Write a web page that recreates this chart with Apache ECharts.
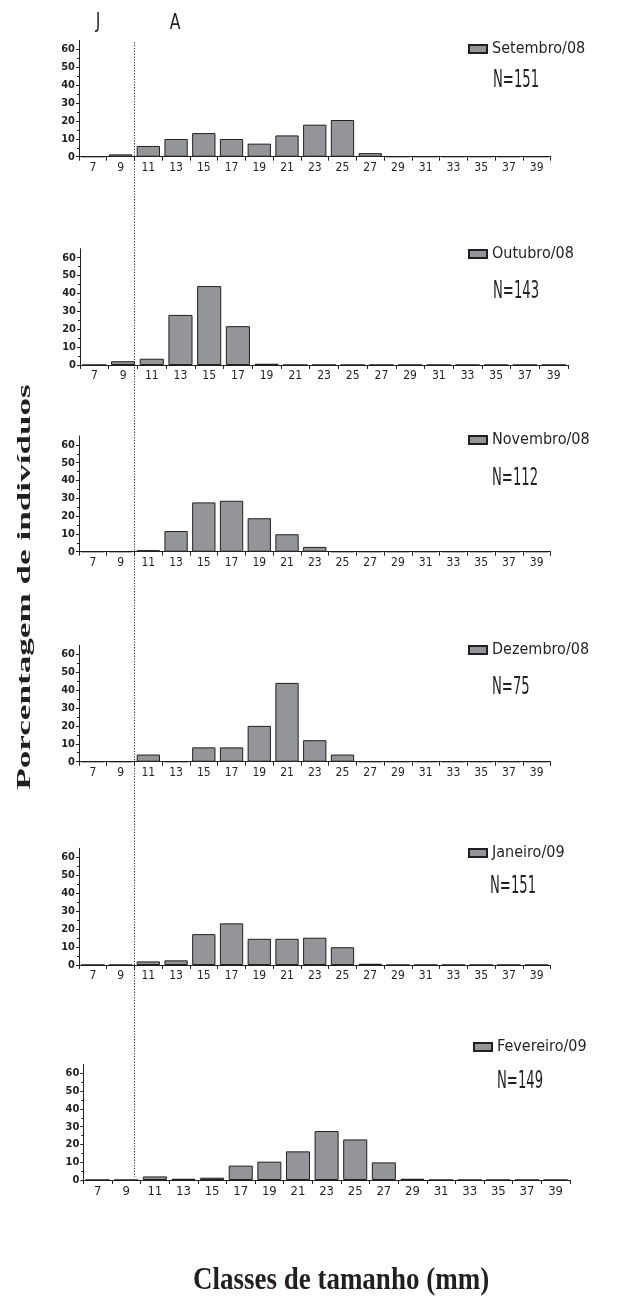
<!DOCTYPE html>
<html><head><meta charset="utf-8">
<script src="https://cdn.jsdelivr.net/npm/echarts@6/dist/echarts.min.js"></script>
<style>html,body{margin:0;padding:0;background:#fff}#chart{width:641px;height:1302px}</style>
</head><body><div id="chart"></div>
<script>
// ---- data ----
const sizeClasses = ['7','9','11','13','15','17','19','21','23','25','27','29','31','33','35','37','39'];
const yTickValues = [0, 10, 20, 30, 40, 50, 60];
const monthNames = ['Setembro/08', 'Outubro/08', 'Novembro/08', 'Dezembro/08', 'Janeiro/09', 'Fevereiro/09'];
const sampleSizes = ['N=151', 'N=143', 'N=112', 'N=75', 'N=151', 'N=149'];
const setembro08  = [0, 1.3, 6.0, 9.9, 13.2, 9.9, 7.3, 11.9, 17.9, 20.5, 2.0, 0, 0, 0, 0, 0, 0];
const outubro08   = [0, 2.1, 3.5, 28.0, 44.1, 21.7, 0.7, 0, 0, 0, 0, 0, 0, 0, 0, 0, 0];
const novembro08  = [0, 0, 0.9, 11.6, 27.7, 28.6, 18.8, 9.8, 2.7, 0, 0, 0, 0, 0, 0, 0, 0];
const dezembro08  = [0, 0, 4.0, 0, 8.0, 8.0, 20.0, 44.0, 12.0, 4.0, 0, 0, 0, 0, 0, 0, 0];
const janeiro09   = [0, 0, 2.0, 2.6, 17.2, 23.2, 14.6, 14.6, 15.2, 9.9, 0.7, 0, 0, 0, 0, 0, 0];
const fevereiro09 = [0, 0, 2.0, 0.7, 1.3, 8.1, 10.3, 16.1, 27.5, 22.8, 9.9, 0.7, 0, 0, 0, 0, 0];
const monthValues = [setembro08, outubro08, novembro08, dezembro08, janeiro09, fevereiro09];
const stageMarks = ['J', 'A'];
const yAxisTitle = 'Porcentagem de indivíduos';
const xAxisTitle = 'Classes de tamanho (mm)';

// ---- fonts: pick the narrowest installed sans ----
function fontWidth(family, text) {
  const c = document.createElement('canvas').getContext('2d');
  c.font = '20px ' + family;
  return c.measureText(text).width;
}
function hasFont(name) {
  const t = 'Setembro/08 N=151 0123456789';
  return fontWidth("'" + name + "', monospace", t) !== fontWidth('monospace', t);
}
const narrowCandidates = ['Noto Sans ExtraCondensed', 'Noto Sans Condensed', 'Liberation Sans Narrow', 'DejaVu Sans Condensed'];
const narrowName = narrowCandidates.find(hasFont) || 'DejaVu Sans Condensed';
const NARROW = "'" + narrowName + "', 'DejaVu Sans Condensed', sans-serif";
const SERIF = "'Liberation Serif', 'DejaVu Serif', serif";
const INK = '#231f20';
// condensation needed so that texts match the reference's very narrow face
const refLegendWidth = 80;
const legendW20 = fontWidth(NARROW, monthNames[0]);
const legendFont = Math.max(16, Math.min(21, 20 * refLegendWidth / legendW20));
const nW24 = fontWidth(NARROW, 'N=151') * 24 / 20;
const nScale = Math.min(1, 46 / nW24);
const markScale = Math.min(1, nScale * 1.3);

// ---- layout ----
const panels = [
  {left: 79,   top: 40.4,   width: 471.5, height: 116.3, lgLeft: 468, lgY: 49,   nX: 493, nY: 81,  xFont: 12},
  {left: 80,   top: 248.7,  width: 488,   height: 116.3, lgLeft: 468, lgY: 254,  nX: 493, nY: 292, xFont: 12},
  {left: 79,   top: 436,    width: 471.5, height: 115.7, lgLeft: 468, lgY: 440,  nX: 492, nY: 479, xFont: 12},
  {left: 79,   top: 645.3,  width: 471.5, height: 116.4, lgLeft: 468, lgY: 650,  nX: 492, nY: 688, xFont: 12},
  {left: 79,   top: 848.3,  width: 471.5, height: 116.7, lgLeft: 468, lgY: 853,  nX: 490, nY: 887, xFont: 12},
  {left: 83.3, top: 1064.4, width: 486.6, height: 115.6, lgLeft: 473, lgY: 1047, nX: 497, nY: 1082, xFont: 13}
];

const chart = echarts.init(document.getElementById('chart'), null, {renderer: 'canvas'});

const grid = [], xAxis = [], yAxis = [], series = [], legend = [];
const graphic = [];
panels.forEach((p, i) => {
  grid.push({left: p.left, top: p.top, width: p.width, height: p.height, containLabel: false});
  xAxis.push({
    type: 'category', gridIndex: i, data: sizeClasses, boundaryGap: true,
    axisLine: {show: true, lineStyle: {color: INK, width: 1}},
    axisTick: {show: true, interval: 0, length: 4, lineStyle: {color: INK, width: 1}},
    axisLabel: {interval: 0, margin: 5, fontSize: p.xFont, fontFamily: NARROW, color: INK},
    splitLine: {show: false}
  });
  yAxis.push({
    type: 'value', gridIndex: i, min: 0, max: 65, interval: 10,
    axisLine: {show: true, lineStyle: {color: INK, width: 1}},
    axisTick: {show: true, length: 3, customValues: yTickValues, lineStyle: {color: INK, width: 1}},
    minorTick: {show: true, splitNumber: 2, length: 2, lineStyle: {color: INK, width: 1}},
    axisLabel: {customValues: yTickValues, margin: 4, fontSize: 11, fontWeight: 'bold', fontFamily: NARROW, color: INK},
    splitLine: {show: false}, minorSplitLine: {show: false}
  });
  series.push({
    type: 'bar', name: monthNames[i], xAxisIndex: i, yAxisIndex: i,
    data: monthValues[i], barCategoryGap: '16%',
    itemStyle: {color: '#939598', borderColor: INK, borderWidth: 1},
    emphasis: {disabled: true}, animation: false
  });
  legend.push({
    data: [monthNames[i]], left: p.lgLeft, top: p.lgY - 11, padding: 0,
    icon: 'rect', itemWidth: 18, itemHeight: 8, itemGap: 6,
    textStyle: {fontSize: legendFont, fontFamily: NARROW, color: INK, lineHeight: 22},
    selectedMode: false
  });
  graphic.push({
    type: 'text', x: p.nX, y: p.nY, scaleX: nScale,
    style: {text: sampleSizes[i], fontSize: 24, fontFamily: NARROW, fill: INK, align: 'left', verticalAlign: 'middle'}
  });
});

graphic.push(
  {type: 'text', x: 98, y: 22, scaleX: markScale, style: {text: stageMarks[0], fontSize: 22, fontFamily: NARROW, fill: INK, align: 'center', verticalAlign: 'middle'}},
  {type: 'text', x: 175, y: 23, scaleX: markScale, style: {text: stageMarks[1], fontSize: 22, fontFamily: NARROW, fill: INK, align: 'center', verticalAlign: 'middle'}},
  {type: 'text', x: 25, y: 587, rotation: Math.PI / 2, scaleX: 1.85,
   style: {text: yAxisTitle, fontSize: 19, fontWeight: 'bold', fontFamily: SERIF, fill: INK, align: 'center', verticalAlign: 'middle'}},
  {type: 'text', x: 341, y: 1281, scaleY: 1.15,
   style: {text: xAxisTitle, fontSize: 27, fontWeight: 'bold', fontFamily: SERIF, fill: INK, align: 'center', verticalAlign: 'middle'}}
);

chart.setOption({
  animation: false,
  backgroundColor: '#ffffff',
  grid, xAxis, yAxis, series, legend, graphic
});

// dotted divider between juvenile (J) and adult (A) classes, placed from the first panel's scale
const cx9 = chart.convertToPixel({xAxisIndex: 0}, '9');
const cx11 = chart.convertToPixel({xAxisIndex: 0}, '11');
const xDiv = (cx9 + cx11) / 2;
const yTop = chart.convertToPixel({yAxisIndex: 0}, 65) + 2;
const yBot = chart.convertToPixel({yAxisIndex: 5}, 0) - 3;
chart.setOption({
  graphic: {elements: [{
    id: 'divider', type: 'line', z: 10,
    shape: {x1: xDiv, y1: yTop, x2: xDiv, y2: yBot},
    style: {stroke: INK, lineWidth: 1, lineDash: [1.2, 1.6]}
  }]}
});
</script></body></html>
